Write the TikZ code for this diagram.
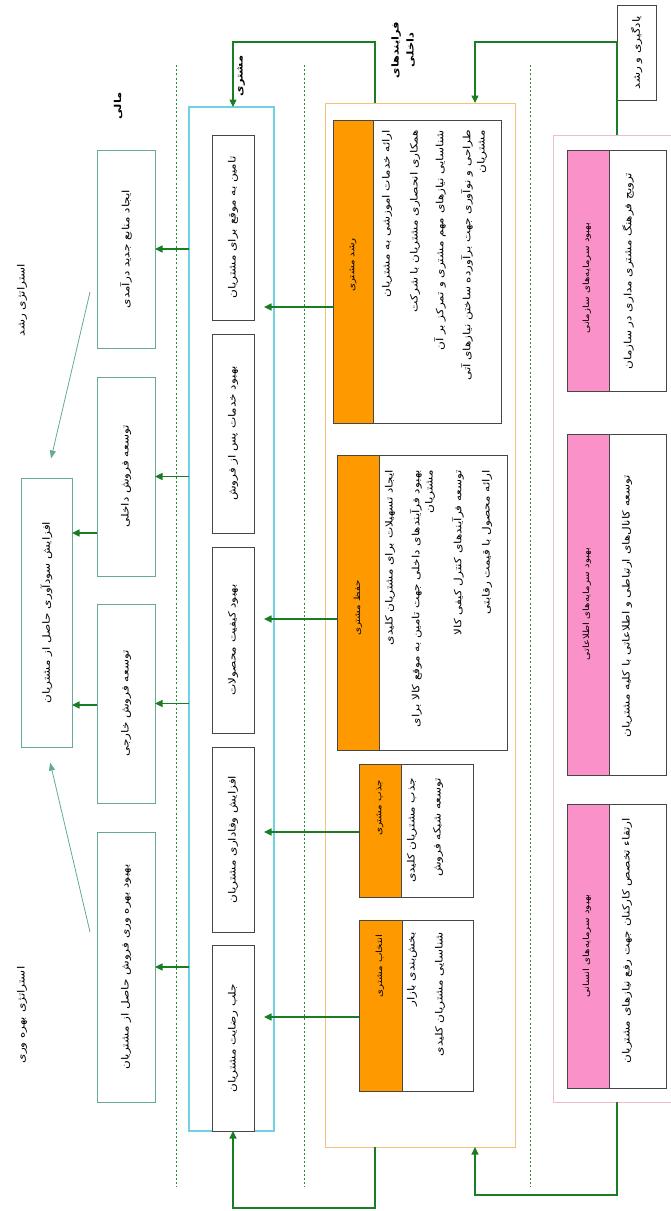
\documentclass[tikz,border=0pt]{standalone}
\usepackage{fontspec}
\usetikzlibrary{arrows.meta,calc}
\TeXXeTstate=1
\newfontfamily\fa[Script=Arabic,FakeStretch=1.2]{DejaVu Sans}
\newcommand{\RL}[1]{\beginR #1\endR}
\definecolor{tealc}{RGB}{100,170,150}
\definecolor{garr}{RGB}{25,125,35}
\definecolor{cyanc}{RGB}{110,210,228}
\definecolor{olin}{RGB}{240,195,120}
\definecolor{ofil}{RGB}{255,153,0}
\definecolor{pfil}{RGB}{250,145,200}
\definecolor{plin}{RGB}{240,188,205}
\definecolor{kgray}{RGB}{70,70,70}
\definecolor{dotg}{RGB}{40,140,50}
% rotated box: [style]{name}{x1}{y1}{x2}{y2}{text}
\newcommand\bx[7][]{\node[#1, minimum width={#6-#4}, minimum height={#5-#3}] (#2) at ({(#3+#5)/2},{(#4+#6)/2}) {#7};}
% upright box
\newcommand\ubx[7][]{\node[#1, minimum width={#5-#3}, minimum height={#6-#4}] (#2) at ({(#3+#5)/2},{(#4+#6)/2}) {#7};}
\begin{document}
\begin{tikzpicture}[x=1pt,y=-1pt,
 every node/.style={inner sep=0pt,outer sep=0pt},
 txt/.style={font=\fa\fontsize{10}{12}\selectfont},
 ttl/.style={font=\fa\fontsize{8.5}{10}\selectfont},
 btxt/.style={font=\fa\bfseries\fontsize{9.5}{11}\selectfont},
 tbox/.style={draw=tealc,line width=0.9pt,fill=white,rotate=90,txt},
 kbox/.style={draw=kgray,line width=0.9pt,fill=white,rotate=90,txt},
 wbox/.style={draw=kgray,line width=0.9pt,fill=white},
 oband/.style={draw=kgray,line width=0.9pt,fill=ofil,rotate=90},
 pband/.style={draw=kgray,line width=0.9pt,fill=pfil,rotate=90},
 ln/.style={rotate=90,txt},
 garrow/.style={draw=garr,line width=1.2pt,-{Triangle[length=7.5pt,width=7pt]}},
 tarrow/.style={draw=tealc,line width=0.8pt,-{Triangle[length=8pt,width=6pt]}},
 dotl/.style={draw=dotg,line width=1pt,dash pattern=on 2pt off 2.2pt},
]
\useasboundingbox (0,0) rectangle (671,1211);
\clip (0,0) rectangle (671,1211);

% dotted separators
\coordinate (v1t) at (176,65); \coordinate (v1b) at (176,1187);
\coordinate (v2t) at (304,65); \coordinate (v2b) at (304,1187);
\coordinate (v3t) at (530,65); \coordinate (v3b) at (530,1187);
\draw[dotl] (v1t) -- (v1b);
\draw[dotl] (v2t) -- (v2b);
\draw[dotl] (v3t) -- (v3b);

% containers
\ubx[draw=cyanc,line width=1.2pt]{cyan}{189}{107}{274}{1131}{}
\ubx[draw=olin,line width=1pt]{outer}{325}{103}{515}{1147}{}
\ubx[draw=plin,line width=1pt]{pinkout}{553}{135}{690}{1102}{}

% labels
\node[ln] (lg) at (22,300) {\RL{استراتژی رشد}};
\node[ln] (lb) at (22,1015) {\RL{استراتژی بهره وری}};
\node[ln,btxt] (lm) at (118,106) {\RL{مالی}};
\node[ln,btxt] (lc) at (241,76) {\RL{مشتری}};
\node[ln,btxt,align=center] (li) at (403,50) {\RL{فرایندهای}\\[4pt]\RL{داخلی}};

% financial
\bx[tbox]{profit}{21}{478}{72}{747}{\RL{افزایش سودآوری حاصل از مشتریان}}
\bx[tbox]{ijad}{97}{150}{155}{348}{\RL{ایجاد منابع جدید درآمدی}}
\bx[tbox]{dakheli}{97}{377}{155}{576}{\RL{توسعه فروش داخلی}}
\bx[tbox]{khareji}{97}{604}{155}{803}{\RL{توسعه فروش خارجی}}
\bx[tbox]{bahre}{97}{832}{155}{1102}{\RL{بهبود بهره وری فروش حاصل از مشتریان}}

% customer
\bx[kbox]{c1}{212}{135}{254}{320}{\RL{تامین به موقع برای مشتریان}}
\bx[kbox]{c2}{212}{334}{254}{533}{\RL{بهبود خدمات پس از فروش}}
\bx[kbox]{c3}{212}{547}{254}{733}{\RL{بهبود کیفیت محصولات}}
\bx[kbox]{c4}{212}{747}{254}{932}{\RL{افزایش وفاداری مشتریان}}
\bx[kbox]{c5}{212}{945}{254}{1131}{\RL{جلب رضایت مشتریان}}

% internal processes
\ubx[wbox]{rushd}{333}{120}{501}{423}{}
\bx[oband]{rushdT}{333}{120}{373}{423}{}
\ubx[wbox]{hefz}{337}{455}{507}{750}{}
\bx[oband]{hefzT}{337}{455}{379}{750}{}
\ubx[wbox]{jazb}{359}{764}{473}{897}{}
\bx[oband]{jazbT}{359}{764}{401}{897}{}
\ubx[wbox]{ent}{359}{920}{473}{1091}{}
\bx[oband]{entT}{359}{920}{402}{1091}{}

\node[ln,ttl] (rushdL) at (353,265) {\RL{رشد مشتری}};
\node[ln,ttl] (hefzL) at (358,608) {\RL{حفظ مشتری}};
\node[ln,ttl] (jazbL) at (380,808) {\RL{جذب مشتری}};
\node[ln,ttl] (entL) at (380,966) {\RL{انتخاب مشتری}};

\node[ln,anchor=east] (r1) at (387,130) {\RL{ارائه خدمات اموزشی به مشتریان}};
\node[ln,anchor=east] (r2) at (415,130) {\RL{همکاری انحصاری مشتریان با شرکت}};
\node[ln,anchor=east] (r3) at (440,130) {\RL{شناسایی نیازهای مهم مشتری و تمرکز بر آن}};
\node[ln,anchor=east] (r4) at (467,130) {\RL{طراحی و نوآوری جهت برآورده ساختن نیازهای آتی}};
\node[ln,anchor=east] (r5) at (482,130) {\RL{مشتریان}};

\node[ln,anchor=east] (h1) at (390,470) {\RL{ایجاد تسهیلات برای مشتریان کلیدی}};
\node[ln,anchor=east] (h2) at (416,470) {\RL{بهبود فرآیندهای داخلی جهت تامین به موقع کالا برای}};
\node[ln,anchor=east] (h2b) at (430,470) {\RL{مشتریان}};
\node[ln,anchor=east] (h3) at (458,470) {\RL{توسعه فرآیندهای کنترل کیفی کالا}};
\node[ln,anchor=east] (h4) at (487,470) {\RL{ارائه محصول با قیمت رقابتی}};

\node[ln,anchor=east] (j1) at (412,778) {\RL{جذب مشتریان کلیدی}};
\node[ln,anchor=east] (j2) at (438,778) {\RL{توسعه شبکه فروش}};
\node[ln,anchor=east] (e1) at (412,932) {\RL{بخش‌بندی بازار}};
\node[ln,anchor=east] (e2) at (440,932) {\RL{شناسایی مشتریان کلیدی}};

% learning and growth
\bx[kbox]{yad}{617}{5}{656}{100}{\RL{یادگیری و رشد}}
\ubx[wbox]{saz}{567}{150}{666}{391}{}
\bx[pband]{sazT}{567}{150}{609}{391}{}
\ubx[wbox]{ete}{567}{434}{666}{775}{}
\bx[pband]{eteT}{567}{434}{609}{775}{}
\ubx[wbox]{ens}{567}{804}{666}{1088}{}
\bx[pband]{ensT}{567}{804}{609}{1088}{}
\node[ln,ttl] (sazL) at (587,278) {\RL{بهبود سرمایه‌های سازمانی}};
\node[ln] (sazB) at (628,271) {\RL{ترویج فرهنگ مشتری مداری در سازمان}};
\node[ln,ttl] (eteL) at (587,604) {\RL{بهبود سرمایه‌های اطلاعاتی}};
\node[ln] (eteB) at (627,606) {\RL{توسعه کانال‌های ارتباطی و اطلاعاتی با کلیه مشتریان}};
\node[ln,ttl] (ensL) at (587,946) {\RL{بهبود سرمایه‌های انسانی}};
\node[ln] (ensB) at (627,941) {\RL{ارتقاء تخصص کارکنان جهت رفع نیازهای مشتریان}};

% connectors: customer -> financial
\draw[garrow] (cyan.west |- ijad.south) -- (ijad.south);
\draw[garrow] (cyan.west |- dakheli.south) -- (dakheli.south);
\draw[garrow] (cyan.west |- khareji.south) -- (khareji.south);
\draw[garrow] (cyan.west |- bahre.south) -- (bahre.south);

% financial -> profit
\coordinate (p1) at (85,533);
\coordinate (p2) at (85,705);
\draw[garrow] (dakheli.north |- p1) -- (profit.south |- p1);
\draw[garrow] (khareji.north |- p2) -- (profit.south |- p2);
\coordinate (d1) at (90,292);
\coordinate (d2) at (90,932);
\draw[tarrow,shorten >=20pt] (d1) -- (profit.east);
\draw[tarrow,shorten >=16pt] (d2) -- (profit.west);

% internal -> customer
\coordinate (a1) at (264,307);
\coordinate (a2) at (264,619);
\coordinate (a3) at (264,832);
\coordinate (a4) at (264,1017);
\draw[garrow] (rushdT.north |- a1) -- (a1);
\draw[garrow] (hefzT.north |- a2) -- (a2);
\draw[garrow] (jazbT.north |- a3) -- (a3);
\draw[garrow] (entT.north |- a4) -- (a4);

\coordinate (k1) at (375,42); \coordinate (k2) at (233,42);
\draw[garrow] (outer.north -| k1) -- (k1) -- (k2) -- (cyan.north -| k2);
\coordinate (k3) at (375,1208); \coordinate (k4) at (233,1208);
\draw[garrow] (outer.south -| k3) -- (k3) -- (k4) -- (cyan.south -| k4);

% learning -> internal
\coordinate (k5) at (617,42); \coordinate (k6) at (475,42);
\draw[garrow] (pinkout.north -| k5) -- (k5) -- (k6) -- (outer.north -| k6);
\coordinate (k7) at (617,1195); \coordinate (k8) at (475,1195);
\draw[garrow] (pinkout.south -| k7) -- (k7) -- (k8) -- (outer.south -| k8);
\end{tikzpicture}
\end{document}
